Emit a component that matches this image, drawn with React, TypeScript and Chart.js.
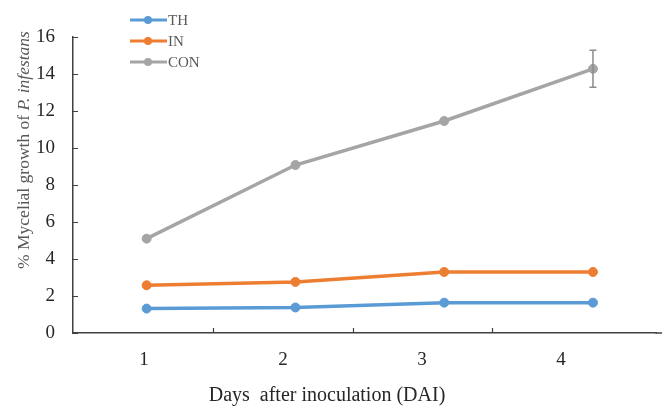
import React, { useEffect, useRef } from 'react';
import { Chart, registerables } from 'chart.js';

Chart.register(...registerables);

// ---- data ----
const days = [1, 2, 3, 4];
const dayTickValues = [1, 2, 3, 4];
const yTickValues = [0, 2, 4, 6, 8, 10, 12, 14, 16];
const seriesNames = ['TH', 'IN', 'CON'];
const thValues = [1.32, 1.38, 1.64, 1.64];
const inValues = [2.58, 2.76, 3.3, 3.3];
const conValues = [5.1, 9.08, 11.46, 14.28];
const conErrors = [0, 0, 0, 1.0];
const xTitle = 'Days  after inoculation (DAI)';
const yTitleNormal = '% Mycelial growth of ';
const yTitleItalic = 'P. infestans';

const seriesColors = ['#5B9BD5', '#ED7D31', '#A5A5A5'];
const FONT = "'Liberation Serif', 'Times New Roman', serif";

const decorPlugin = {
  id: 'decor',
  afterDatasetsDraw(chart: any) {
    const ctx = chart.ctx;
    const ys = chart.scales.y;
    const meta = chart.getDatasetMeta(2);
    ctx.save();
    ctx.strokeStyle = '#8C8C8C';
    ctx.lineWidth = 1.5;
    conErrors.forEach((e, i) => {
      if (!e) return;
      const px = meta.data[i].x;
      const top = ys.getPixelForValue(conValues[i] + e);
      const bot = ys.getPixelForValue(conValues[i] - e);
      ctx.beginPath();
      ctx.moveTo(px, top);
      ctx.lineTo(px, bot);
      ctx.moveTo(px - 3.5, top);
      ctx.lineTo(px + 3.5, top);
      ctx.moveTo(px - 3.5, bot);
      ctx.lineTo(px + 3.5, bot);
      ctx.stroke();
    });
    ctx.restore();
  },
  afterDraw(chart: any) {
    const ctx = chart.ctx;
    const area = chart.chartArea;
    const ys = chart.scales.y;
    const xs = chart.scales.x;
    ctx.save();
    // extend x axis line to the canvas edge
    ctx.strokeStyle = '#404040';
    ctx.lineWidth = 1.5;
    ctx.beginPath();
    ctx.moveTo(area.right - 1, area.bottom);
    ctx.lineTo(chart.width, area.bottom);
    ctx.stroke();
    // inward tick marks
    ctx.lineWidth = 1.2;
    ctx.beginPath();
    yTickValues.forEach((v) => {
      const py = Math.round(ys.getPixelForValue(v)) + 0.5;
      ctx.moveTo(area.left, py);
      ctx.lineTo(area.left + 5, py);
    });
    for (let i = 0; i < dayTickValues.length - 1; i++) {
      const px = Math.round(xs.getPixelForValue(dayTickValues[i] + 0.5)) + 0.5;
      ctx.moveTo(px, area.bottom);
      ctx.lineTo(px, area.bottom - 5);
    }
    ctx.stroke();

    // legend
    chart.data.datasets.forEach((ds: any, i: number) => {
      const yy = 20 + i * 21;
      ctx.strokeStyle = ds.borderColor;
      ctx.lineWidth = 3;
      ctx.beginPath();
      ctx.moveTo(130, yy);
      ctx.lineTo(167, yy);
      ctx.stroke();
      ctx.fillStyle = ds.borderColor;
      ctx.beginPath();
      ctx.arc(148, yy, 4, 0, Math.PI * 2);
      ctx.fill();
      ctx.fillStyle = '#595959';
      ctx.font = `15px ${FONT}`;
      ctx.textBaseline = 'middle';
      ctx.textAlign = 'left';
      ctx.fillText(ds.label, 168, yy + 1);
    });

    // x title
    ctx.fillStyle = '#262626';
    ctx.font = `20px ${FONT}`;
    ctx.textAlign = 'center';
    ctx.textBaseline = 'middle';
    ctx.fillText(xTitle, 327, 396);

    // y title (rotated, mixed italic)
    ctx.translate(24, 150);
    ctx.rotate(-Math.PI / 2);
    ctx.fillStyle = '#595959';
    ctx.textAlign = 'left';
    ctx.font = `17.5px ${FONT}`;
    const w1 = ctx.measureText(yTitleNormal).width;
    ctx.font = `italic 17.5px ${FONT}`;
    const w2 = ctx.measureText(yTitleItalic).width;
    const start = -(w1 + w2) / 2;
    ctx.font = `17.5px ${FONT}`;
    ctx.fillText(yTitleNormal, start, 0);
    ctx.font = `italic 17.5px ${FONT}`;
    ctx.fillText(yTitleItalic, start + w1, 0);
    ctx.restore();
  },
};

export default function App() {
  const ref = useRef<HTMLCanvasElement | null>(null);
  useEffect(() => {
    document.body.style.margin = '0';
    const mk = (vals: number[]) => days.map((d, i) => ({ x: d, y: vals[i] }));
    const allVals = [thValues, inValues, conValues];
    const chart = new Chart(ref.current as HTMLCanvasElement, {
      type: 'line',
      data: {
        datasets: seriesNames.map((name, i) => ({
          label: name,
          data: mk(allVals[i]),
          xAxisID: 'xd',
          yAxisID: 'y',
          borderColor: seriesColors[i],
          backgroundColor: seriesColors[i],
          pointBackgroundColor: seriesColors[i],
          pointBorderColor: seriesColors[i],
          borderWidth: 3.5,
          pointRadius: 4.5,
          pointBorderWidth: 1,
          tension: 0,
        })),
      },
      options: {
        animation: false,
        responsive: false,
        layout: { padding: { top: 37, right: 0, left: 0, bottom: 0 } },
        plugins: { legend: { display: false }, tooltip: { enabled: false } },
        scales: {
          x: {
            type: 'linear',
            position: 'bottom',
            min: 0.49,
            max: 4.686,
            afterBuildTicks: (s: any) => {
              s.ticks = dayTickValues.map((v) => ({ value: v }));
            },
            afterFit: (s: any) => {
              s.height = 76;
            },
            grid: { display: false, drawTicks: false },
            border: { display: true, color: '#404040', width: 1.5 },
            ticks: {
              padding: 16,
              color: '#262626',
              font: { family: FONT, size: 19 },
              maxRotation: 0,
              callback: (v: any) => String(v),
            },
          },
          xd: {
            type: 'linear',
            display: false,
            min: 0.505,
            max: 4.427,
          },
          y: {
            type: 'linear',
            position: 'left',
            min: 0,
            max: 16,
            afterBuildTicks: (s: any) => {
              s.ticks = yTickValues.map((v) => ({ value: v }));
            },
            afterFit: (s: any) => {
              s.width = 73;
            },
            grid: { display: false, drawTicks: false },
            border: { display: true, color: '#404040', width: 1.5 },
            ticks: {
              padding: 18,
              color: '#262626',
              font: { family: FONT, size: 19 },
            },
          },
        },
      },
      plugins: [decorPlugin],
    } as any);
    return () => chart.destroy();
  }, []);
  return (
    <div style={{ width: 662, height: 409 }}>
      <canvas ref={ref} width={662} height={409} />
    </div>
  );
}
